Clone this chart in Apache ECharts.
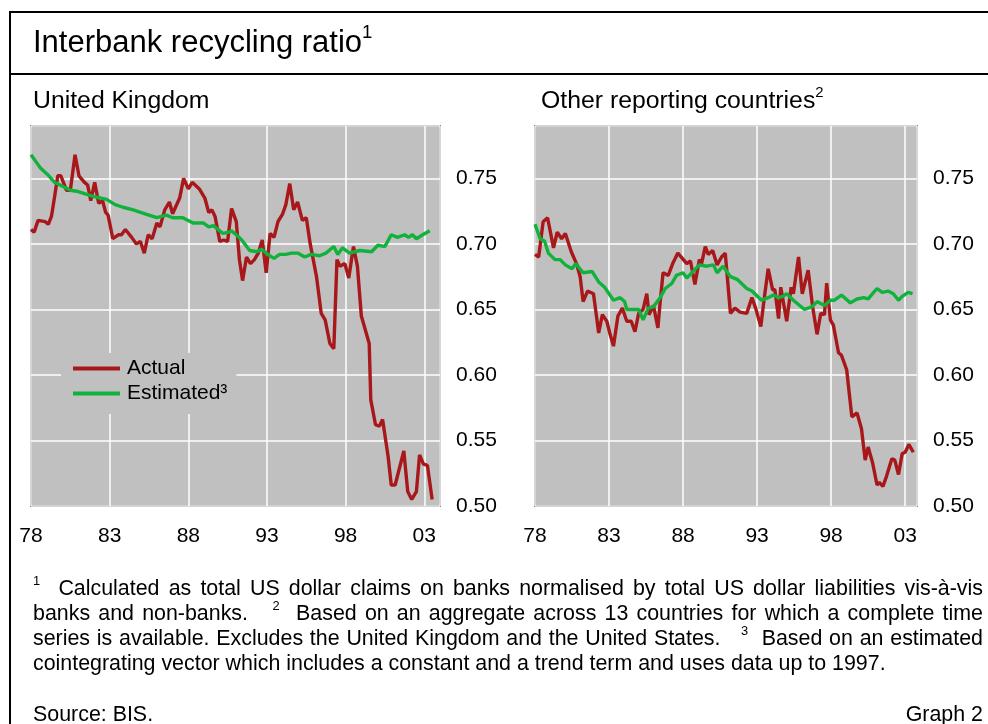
<!DOCTYPE html>
<html>
<head>
<meta charset="utf-8">
<script src="https://cdn.jsdelivr.net/npm/echarts@6/dist/echarts.min.js"></script>
<style>
  body { margin: 0; background: #fff; }
  #page { position: relative; width: 988px; height: 724px; overflow: hidden; font-family: "Liberation Sans", Arial, sans-serif; color: #000; }
  #chart { position: absolute; left: 0; top: 0; width: 988px; height: 724px; }
  .txt { position: absolute; white-space: nowrap; z-index: 2; }
  .ln { position: absolute; background: #000; z-index: 2; }
  sup { font-size: 60%; vertical-align: 0; position: relative; top: -0.75em; line-height: 0; }
  .note { position: absolute; left: 33px; width: 950px; font-size: 21.4px; line-height: 25px; height: 25px; white-space: nowrap; z-index: 2; }
  .just { text-align: justify; text-align-last: justify; }
</style>
</head>
<body>
<div id="page">
  <div id="chart"></div>
  <div class="ln" style="left:9px;top:11px;width:979px;height:2px;"></div>
  <div class="ln" style="left:9px;top:73px;width:979px;height:2px;"></div>
  <div class="ln" style="left:9px;top:11px;width:2px;height:713px;"></div>
  <div class="txt" style="left:33px;top:24px;font-size:31px;">Interbank recycling ratio<sup>1</sup></div>
  <div class="txt" style="left:33px;top:86px;font-size:24.8px;">United Kingdom</div>
  <div class="txt" style="left:541px;top:86px;font-size:24.8px;">Other reporting countries<sup>2</sup></div>
  <div class="note just" style="top:576px;"><sup>1</sup>&nbsp; Calculated as total US dollar claims on banks normalised by total US dollar liabilities vis-à-vis</div>
  <div class="note just" style="top:601px;">banks and non-banks. &nbsp; <sup>2</sup>&nbsp; Based on an aggregate across 13 countries for which a complete time</div>
  <div class="note just" style="top:626px;">series is available. Excludes the United Kingdom and the United States. &nbsp; <sup>3</sup>&nbsp; Based on an estimated</div>
  <div class="note" style="top:651px;">cointegrating vector which includes a constant and a trend term and uses data up to 1997.</div>
  <div class="txt" style="left:33px;top:702px;font-size:21.4px;line-height:25px;">Source: BIS.</div>
  <div class="txt" style="right:5px;top:702px;font-size:21.4px;line-height:25px;">Graph 2</div>
</div>
<script>
// [year, ratio]
let ukActual = [
  [1978.0, 0.711], [1978.2, 0.709], [1978.45, 0.718], [1978.9, 0.717], [1979.1, 0.715],
  [1979.3, 0.721], [1979.5, 0.736], [1979.7, 0.752], [1979.9, 0.752], [1980.25, 0.741],
  [1980.5, 0.741], [1980.8, 0.768], [1981.05, 0.752], [1981.4, 0.747], [1981.6, 0.745],
  [1981.8, 0.733], [1982.05, 0.747], [1982.3, 0.731], [1982.55, 0.733], [1982.75, 0.724],
  [1982.9, 0.722], [1983.2, 0.704], [1983.55, 0.707], [1983.75, 0.707], [1984.0, 0.711],
  [1984.4, 0.705], [1984.7, 0.700], [1984.95, 0.702], [1985.2, 0.693], [1985.45, 0.707],
  [1985.7, 0.704], [1986.0, 0.716], [1986.2, 0.713], [1986.5, 0.726], [1986.8, 0.732],
  [1987.0, 0.723], [1987.45, 0.735], [1987.7, 0.750], [1988.0, 0.742], [1988.25, 0.747],
  [1988.7, 0.742], [1989.05, 0.735], [1989.3, 0.724], [1989.5, 0.726], [1989.7, 0.721],
  [1990.0, 0.702], [1990.25, 0.703], [1990.5, 0.702], [1990.75, 0.727], [1991.05, 0.717],
  [1991.25, 0.688], [1991.45, 0.672], [1991.7, 0.690], [1991.95, 0.685], [1992.2, 0.688],
  [1992.45, 0.693], [1992.7, 0.703], [1992.95, 0.678], [1993.2, 0.708], [1993.45, 0.705],
  [1993.7, 0.717], [1994.0, 0.723], [1994.2, 0.730], [1994.45, 0.746], [1994.7, 0.726],
  [1994.95, 0.732], [1995.25, 0.718], [1995.5, 0.720], [1995.75, 0.700], [1996.15, 0.675],
  [1996.45, 0.647], [1996.7, 0.642], [1997.0, 0.624], [1997.25, 0.620], [1997.45, 0.688],
  [1997.65, 0.683], [1997.95, 0.685], [1998.2, 0.674], [1998.5, 0.698], [1998.75, 0.683],
  [1999.0, 0.645], [1999.5, 0.624], [1999.6, 0.581], [1999.9, 0.562], [2000.15, 0.561],
  [2000.35, 0.566], [2000.7, 0.538], [2000.9, 0.516], [2001.15, 0.516], [2001.7, 0.542],
  [2001.95, 0.511], [2002.2, 0.505], [2002.5, 0.511], [2002.7, 0.539], [2002.95, 0.532],
  [2003.2, 0.531], [2003.5, 0.505]
];
let ukEstimated = [
  [1978.0, 0.768], [1978.3, 0.763], [1978.6, 0.758], [1979.05, 0.753], [1979.5, 0.747],
  [1980.0, 0.744], [1980.5, 0.741], [1981.0, 0.740], [1981.5, 0.738], [1982.05, 0.736],
  [1982.8, 0.734], [1983.35, 0.730], [1983.85, 0.728], [1984.5, 0.726], [1985.25, 0.723],
  [1986.0, 0.720], [1986.6, 0.722], [1987.0, 0.720], [1987.65, 0.720], [1988.3, 0.716],
  [1988.95, 0.716], [1989.3, 0.713], [1989.6, 0.714], [1990.2, 0.708], [1990.6, 0.709],
  [1990.75, 0.710], [1991.05, 0.707], [1991.4, 0.703], [1991.9, 0.695], [1992.35, 0.694],
  [1992.65, 0.696], [1993.05, 0.692], [1993.45, 0.689], [1993.8, 0.692], [1994.2, 0.692],
  [1994.55, 0.693], [1994.95, 0.693], [1995.4, 0.690], [1995.8, 0.692], [1996.35, 0.691],
  [1996.75, 0.693], [1997.25, 0.698], [1997.5, 0.692], [1997.8, 0.697], [1998.25, 0.693],
  [1998.9, 0.695], [1999.65, 0.694], [2000.05, 0.699], [2000.5, 0.698], [2000.9, 0.707],
  [2001.3, 0.705], [2001.75, 0.707], [2002.0, 0.705], [2002.25, 0.707], [2002.5, 0.704],
  [2002.9, 0.707], [2003.35, 0.710]
];
let otherActual = [
  [1978.0, 0.692], [1978.25, 0.690], [1978.55, 0.717], [1978.85, 0.720], [1979.25, 0.697],
  [1979.5, 0.709], [1979.8, 0.704], [1980.05, 0.708], [1980.45, 0.694], [1980.8, 0.685],
  [1981.05, 0.675], [1981.25, 0.656], [1981.55, 0.664], [1981.95, 0.662], [1982.15, 0.645],
  [1982.3, 0.632], [1982.55, 0.646], [1982.85, 0.641], [1983.05, 0.632], [1983.3, 0.622],
  [1983.6, 0.645], [1983.9, 0.651], [1984.2, 0.641], [1984.5, 0.641], [1984.75, 0.633],
  [1985.0, 0.647], [1985.3, 0.650], [1985.55, 0.662], [1985.7, 0.646], [1986.0, 0.653],
  [1986.3, 0.636], [1986.45, 0.655], [1986.65, 0.678], [1987.0, 0.676], [1987.3, 0.685],
  [1987.65, 0.693], [1987.95, 0.689], [1988.25, 0.685], [1988.5, 0.687], [1988.8, 0.669],
  [1989.1, 0.688], [1989.25, 0.685], [1989.5, 0.698], [1989.7, 0.692], [1990.0, 0.695],
  [1990.3, 0.684], [1990.6, 0.690], [1990.85, 0.693], [1991.2, 0.647], [1991.5, 0.651],
  [1991.85, 0.648], [1992.3, 0.647], [1992.65, 0.659], [1992.9, 0.651], [1993.25, 0.637],
  [1993.5, 0.660], [1993.75, 0.681], [1994.05, 0.665], [1994.2, 0.665], [1994.45, 0.643],
  [1994.6, 0.667], [1995.0, 0.641], [1995.3, 0.667], [1995.45, 0.662], [1995.8, 0.690],
  [1996.05, 0.662], [1996.45, 0.680], [1996.75, 0.652], [1997.05, 0.631], [1997.3, 0.647],
  [1997.55, 0.646], [1997.7, 0.670], [1997.95, 0.642], [1998.15, 0.638], [1998.5, 0.617],
  [1998.7, 0.615], [1999.05, 0.604], [1999.4, 0.568], [1999.75, 0.571], [2000.05, 0.559],
  [2000.3, 0.535], [2000.5, 0.545], [2000.8, 0.533], [2001.1, 0.516], [2001.25, 0.518],
  [2001.5, 0.515], [2001.75, 0.523], [2002.1, 0.536], [2002.3, 0.535], [2002.55, 0.524],
  [2002.8, 0.540], [2003.0, 0.541], [2003.25, 0.547], [2003.55, 0.541]
];
let otherEstimated = [
  [1978.0, 0.715], [1978.35, 0.704], [1978.65, 0.702], [1978.9, 0.693], [1979.35, 0.688],
  [1979.7, 0.688], [1980.05, 0.684], [1980.5, 0.681], [1980.75, 0.685], [1981.25, 0.678],
  [1981.85, 0.679], [1982.3, 0.671], [1982.7, 0.667], [1983.3, 0.657], [1983.75, 0.659],
  [1984.05, 0.656], [1984.2, 0.650], [1985.0, 0.650], [1985.3, 0.642], [1985.65, 0.651],
  [1986.0, 0.652], [1986.45, 0.659], [1986.8, 0.666], [1987.25, 0.670], [1987.55, 0.676],
  [1988.0, 0.678], [1988.25, 0.674], [1988.6, 0.678], [1989.1, 0.684], [1989.6, 0.683],
  [1990.05, 0.684], [1990.3, 0.678], [1990.7, 0.683], [1991.2, 0.675], [1991.65, 0.673],
  [1992.3, 0.666], [1992.65, 0.664], [1993.3, 0.657], [1993.75, 0.659], [1994.1, 0.661],
  [1994.45, 0.659], [1994.75, 0.660], [1995.0, 0.662], [1995.45, 0.657], [1996.2, 0.650],
  [1996.7, 0.652], [1997.05, 0.656], [1997.55, 0.653], [1997.95, 0.657], [1998.2, 0.657],
  [1998.7, 0.661], [1999.3, 0.655], [1999.75, 0.658], [2000.2, 0.659], [2000.5, 0.658],
  [2001.1, 0.666], [2001.45, 0.663], [2001.85, 0.664], [2002.2, 0.662], [2002.55, 0.657],
  [2002.8, 0.660], [2003.2, 0.663], [2003.5, 0.662]
];
let yearTicks = [1978, 1983, 1988, 1993, 1998, 2003];
let ratioTicks = [0.50, 0.55, 0.60, 0.65, 0.70, 0.75];

let seriesNames = ["Actual", "Estimated³"];
let red = "#A8171A";
let green = "#10B23C";
let font = "Liberation Sans, Arial, sans-serif";

let chart = echarts.init(document.getElementById("chart"));

function xAxisFor(gridIndex, max) {
  return {
    type: "value",
    gridIndex: gridIndex,
    min: 1978,
    max: max,
    interval: 5,
    axisLine: { show: false },
    axisTick: { show: false },
    splitLine: { show: true, lineStyle: { color: "#ffffff", width: 1.5 } },
    axisLabel: {
      margin: 20,
      color: "#000",
      fontSize: 21,
      fontFamily: font,
      showMaxLabel: false,
      formatter: function (v) {
        let y = Math.round(v);
        if (Math.abs(v - y) > 1e-6 || yearTicks.indexOf(y) < 0) return "";
        return String(y % 100).padStart(2, "0");
      },
    },
  };
}

function yAxisFor(gridIndex) {
  return {
    type: "value",
    gridIndex: gridIndex,
    position: "right",
    min: 0.5,
    max: 0.79,
    interval: 0.05,
    axisLine: { show: false },
    axisTick: { show: false },
    splitLine: { show: true, lineStyle: { color: "#ffffff", width: 1.5 } },
    axisLabel: {
      margin: 16,
      color: "#000",
      fontSize: 21,
      fontFamily: font,
      showMaxLabel: false,
      formatter: function (v) {
        for (let i = 0; i < ratioTicks.length; i++) {
          if (Math.abs(v - ratioTicks[i]) < 1e-6) return ratioTicks[i].toFixed(2);
        }
        return "";
      },
    },
  };
}

function lineSeries(name, color, data, idx) {
  return {
    name: name,
    type: "line",
    xAxisIndex: idx,
    yAxisIndex: idx,
    showSymbol: false,
    symbol: "none",
    data: data,
    lineStyle: { color: color, width: 3.4 },
    itemStyle: { color: color },
    z: name === "Actual" ? 3 : 4,
  };
}

let option = {
  animation: false,
  grid: [
    { left: 31, top: 126, width: 409, height: 380, show: true, backgroundColor: "#C0C0C0", borderColor: "#222", borderWidth: 1.4 },
    { left: 535, top: 126, width: 382, height: 380, show: true, backgroundColor: "#C0C0C0", borderColor: "#222", borderWidth: 1.4 },
  ],
  legend: {
    data: seriesNames,
    orient: "vertical",
    left: 61,
    top: 353,
    padding: [5, 9, 10, 12],
    itemGap: 4,
    itemWidth: 47,
    itemHeight: 4,
    icon: "rect",
    backgroundColor: "#C0C0C0",
    textStyle: { fontSize: 21, fontFamily: font, color: "#000", padding: [0, 0, 0, 2] },
    selectedMode: false,
  },
  xAxis: [xAxisFor(0, 2004), xAxisFor(1, 2003.8)],
  yAxis: [yAxisFor(0), yAxisFor(1)],
  series: [
    lineSeries(seriesNames[0], red, ukActual, 0),
    lineSeries(seriesNames[1], green, ukEstimated, 0),
    lineSeries(seriesNames[0], red, otherActual, 1),
    lineSeries(seriesNames[1], green, otherEstimated, 1),
  ],
};
chart.setOption(option);
</script>
</body>
</html>
